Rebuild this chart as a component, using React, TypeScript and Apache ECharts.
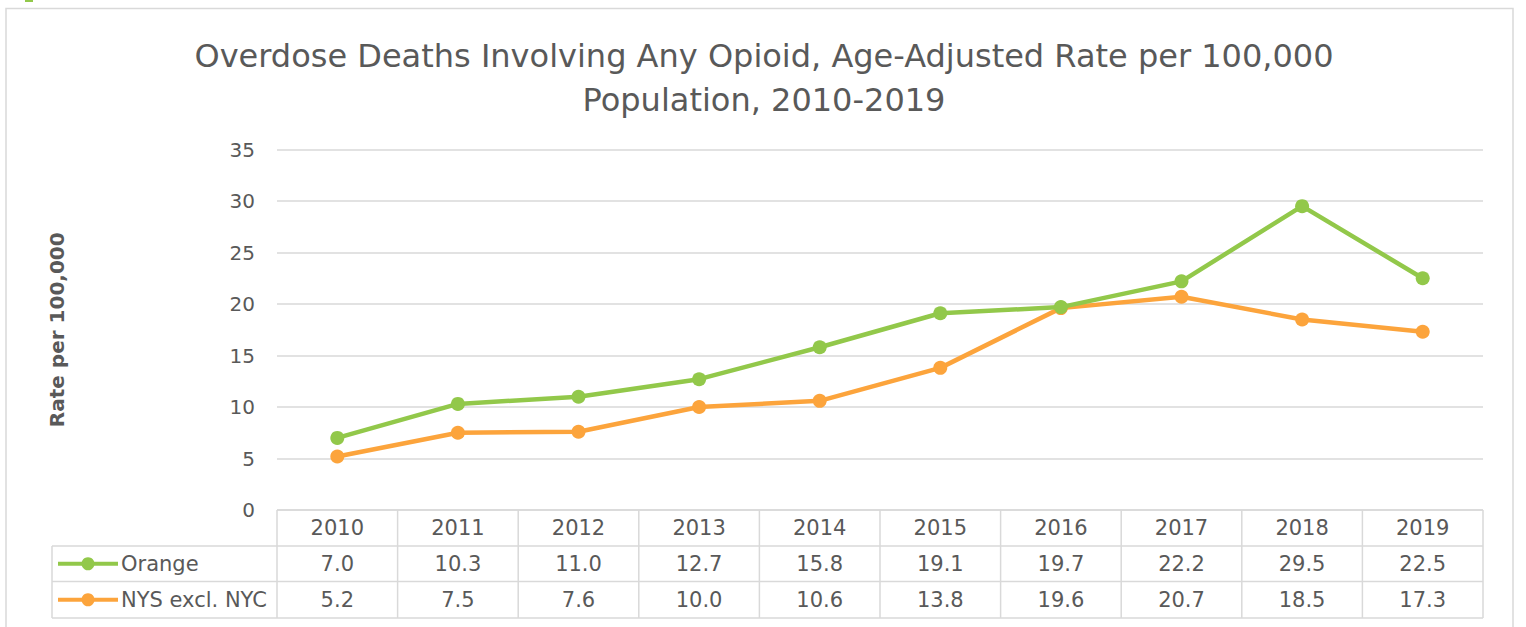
import React, { useEffect, useRef } from "react";
import * as echarts from "echarts";

const years = ["2010", "2011", "2012", "2013", "2014", "2015", "2016", "2017", "2018", "2019"];
const orangeCounty = [7.0, 10.3, 11.0, 12.7, 15.8, 19.1, 19.7, 22.2, 29.5, 22.5];
const nysExclNyc = [5.2, 7.5, 7.6, 10.0, 10.6, 13.8, 19.6, 20.7, 18.5, 17.3];
const seriesNames = ["Orange", "NYS excl. NYC"];
const yTicks = [0, 5, 10, 15, 20, 25, 30, 35];

const GREEN = "#92C84A";
const ORANGE = "#FCA43C";
const TEXT = "#595959";
const LINE = "#d9d9d9";
const FONT = "DejaVu Sans";

const W = 1526;
const H = 627;
const PLOT_L = 277;
const PLOT_R = 1483;
const PLOT_T = 149.5;
const PLOT_B = 510;
const ROW_H = [36, 35.5, 36.5];
const LEG_L = 52;

export default function App() {
  const ref = useRef<HTMLDivElement>(null);
  useEffect(() => {
    document.body.style.margin = "0";
    const chart = echarts.init(ref.current!, null, { renderer: "svg" });
    const colW = (PLOT_R - PLOT_L) / years.length;
    const rowTops = [PLOT_B, PLOT_B + ROW_H[0], PLOT_B + ROW_H[0] + ROW_H[1]];
    const tableBottom = rowTops[2] + ROW_H[2];
    const g: any[] = [];
    const ln = (x1: number, y1: number, x2: number, y2: number) => ({
      type: "line",
      shape: { x1, y1, x2, y2 },
      style: { stroke: LINE, lineWidth: 1.5 },
      silent: true,
    });
    // outer border
    g.push({
      type: "rect",
      shape: { x: 6, y: 8.5, width: 1507, height: 640 },
      style: { fill: "none", stroke: LINE, lineWidth: 1.5 },
    });
    g.push({ type: "rect", shape: { x: 25, y: 0, width: 8, height: 2 }, style: { fill: GREEN } });
    // horizontal lines
    g.push(ln(PLOT_L, rowTops[0], PLOT_R, rowTops[0]));
    g.push(ln(LEG_L, rowTops[1], PLOT_R, rowTops[1]));
    g.push(ln(LEG_L, rowTops[2], PLOT_R, rowTops[2]));
    g.push(ln(LEG_L, tableBottom, PLOT_R, tableBottom));
    // vertical lines
    for (let i = 0; i <= years.length; i++) {
      const x = PLOT_L + i * colW;
      g.push(ln(x, rowTops[0], x, tableBottom));
    }
    g.push(ln(LEG_L, rowTops[1], LEG_L, tableBottom));
    // header years
    years.forEach((y, i) => {
      g.push({
        type: "text",
        x: PLOT_L + (i + 0.5) * colW,
        y: rowTops[0] + ROW_H[0] / 2,
        style: { text: y, fill: TEXT, font: `21px "${FONT}"`, align: "center", verticalAlign: "middle" },
      });
    });
    const rows = [orangeCounty, nysExclNyc];
    const colors = [GREEN, ORANGE];
    rows.forEach((vals, r) => {
      const cy = rowTops[r + 1] + ROW_H[r + 1] / 2;
      vals.forEach((v, i) => {
        g.push({
          type: "text",
          x: PLOT_L + (i + 0.5) * colW,
          y: cy,
          style: { text: v.toFixed(1), fill: TEXT, font: `21px "${FONT}"`, align: "center", verticalAlign: "middle" },
        });
      });
      g.push({
        type: "line",
        shape: { x1: 58, y1: cy, x2: 118, y2: cy },
        style: { stroke: colors[r], lineWidth: 4 },
      });
      g.push({ type: "circle", shape: { cx: 88, cy, r: 6.5 }, style: { fill: colors[r] } });
      g.push({
        type: "text",
        x: 121,
        y: cy,
        style: { text: seriesNames[r], fill: TEXT, font: `21px "${FONT}"`, align: "left", verticalAlign: "middle" },
      });
    });

    chart.setOption({
      animation: false,
      backgroundColor: "#ffffff",
      title: {
        text: "Overdose Deaths Involving Any Opioid, Age-Adjusted Rate per 100,000\nPopulation, 2010-2019",
        left: 759,
        top: 29,
        textAlign: "center",
        textStyle: { fontFamily: FONT, fontSize: 32, fontWeight: "normal", color: TEXT, lineHeight: 44 },
      },
      grid: { left: PLOT_L, right: W - PLOT_R, top: PLOT_T, bottom: H - PLOT_B },
      xAxis: {
        type: "category",
        data: years,
        boundaryGap: true,
        axisLine: { show: false },
        axisTick: { show: false },
        axisLabel: { show: false },
      },
      yAxis: {
        type: "value",
        min: yTicks[0],
        max: yTicks[yTicks.length - 1],
        interval: 5,
        name: "Rate per 100,000",
        nameLocation: "middle",
        nameGap: 210,
        nameTextStyle: { fontFamily: FONT, fontSize: 20, fontWeight: "bold", color: TEXT },
        axisLine: { show: false },
        axisTick: { show: false },
        axisLabel: { fontFamily: FONT, fontSize: 20, color: TEXT, margin: 22 },
        splitLine: { lineStyle: { color: LINE, width: 1.5 } },
      },
      series: [
        {
          name: seriesNames[0],
          type: "line",
          data: orangeCounty,
          symbol: "circle",
          symbolSize: 14,
          lineStyle: { color: GREEN, width: 4.5 },
          itemStyle: { color: GREEN },
          z: 3,
        },
        {
          name: seriesNames[1],
          type: "line",
          data: nysExclNyc,
          symbol: "circle",
          symbolSize: 14,
          lineStyle: { color: ORANGE, width: 4.5 },
          itemStyle: { color: ORANGE },
          z: 2,
        },
      ],
      graphic: g,
    });
    return () => chart.dispose();
  }, []);
  return <div ref={ref} style={{ width: W, height: H }} />;
}
